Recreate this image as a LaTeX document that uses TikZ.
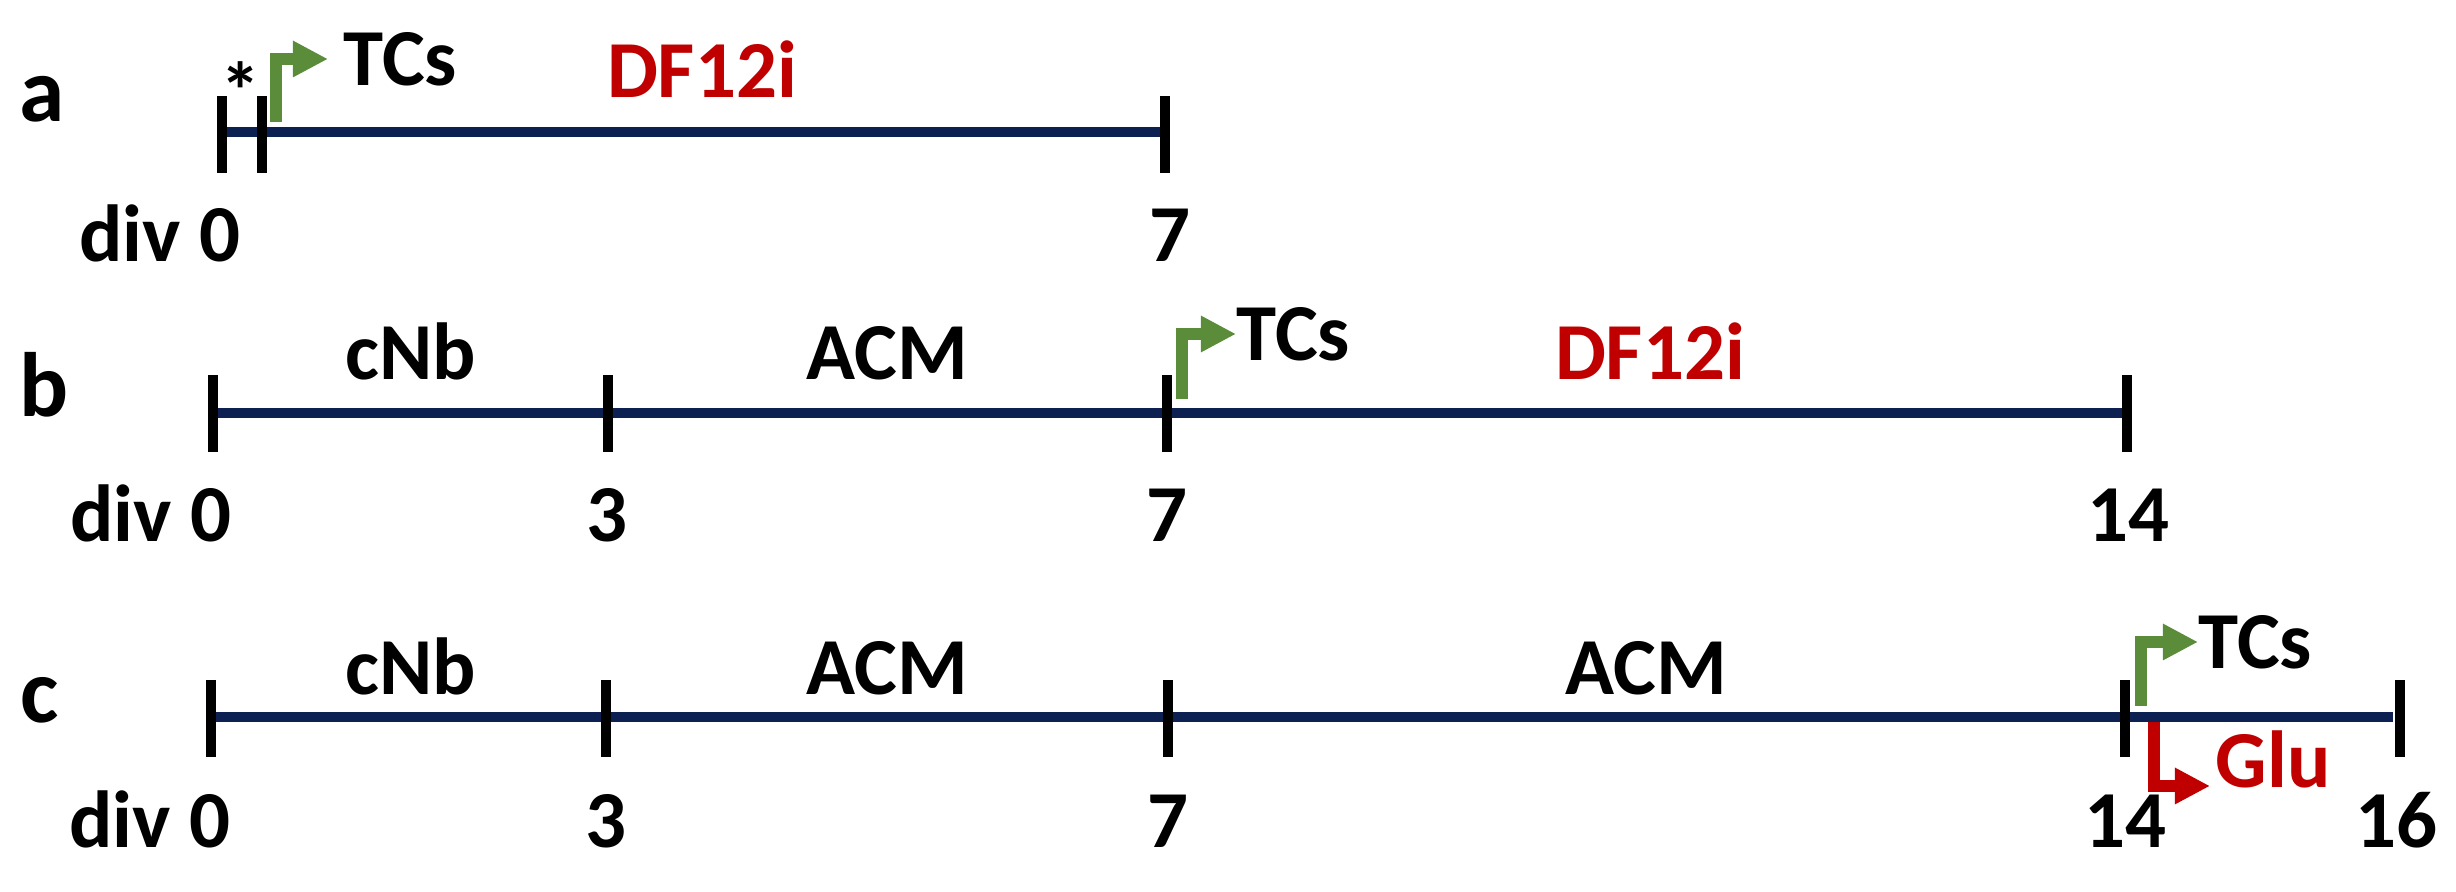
\documentclass[tikz,border=0pt]{standalone}
\usepackage{fontspec}
\setmainfont{Carlito}
\usetikzlibrary{arrows.meta}
\definecolor{navy}{HTML}{0C2152}
\definecolor{tcgreen}{HTML}{5B8C3A}
\definecolor{glured}{HTML}{C00000}
\begin{document}
\begin{tikzpicture}[x=0.01cm, y=-0.01cm,
  txt/.style={font=\fontsize{23}{26}\selectfont\bfseries, inner sep=0pt},
  lbl/.style={txt, anchor=base},
  redlbl/.style={txt, anchor=base, text=glured},
  rowlbl/.style={font=\fontsize{26}{30}\selectfont\bfseries, inner sep=0pt, anchor=base},
  timeline/.style={navy, line width=2.85pt},
  tickmark/.style={black, line width=2.6pt},
  arr/.style={line width=3.5pt, line join=miter, -{Triangle[length=0.35cm,width=0.34cm]}},
]
\useasboundingbox (0,0) rectangle (2456,892);

% ---------- row a ----------
\coordinate (a0) at (222,132);
\coordinate (a1) at (262,132);
\coordinate (a7) at (1165,132);
\draw[timeline] (a0) -- (a7);
\foreach \c in {a0,a1,a7} \draw[tickmark] (\c) ++(0,-36) -- ++(0,77);
\node[rowlbl] (la) at (42,122) {a};
\node[txt, anchor=base] (astar) at (241,120) {*};
\node[txt, anchor=west] (aTCs) at (343,59) {TCs};
\coordinate (aTCbase) at (276,122);
\draw[arr, tcgreen] (aTCbase) |- (aTCs.west) [shorten >=0.15cm];
\node[redlbl] (aDF) at (702,98) {DF12i};
\node[txt, anchor=base east] (adiv) at (241,262) {div 0};
\node[lbl] (a7n) at (1170,262) {7};

% ---------- row b ----------
\coordinate (b0) at (213,413);
\coordinate (b3) at (608,413);
\coordinate (b7) at (1167,413);
\coordinate (b14) at (2127,413);
\draw[timeline] (b0) -- (b14);
\foreach \c in {b0,b3,b7,b14} \draw[tickmark] (\c) ++(0,-38) -- ++(0,77);
\node[rowlbl] (lb) at (44,417) {b};
\node[lbl] (bcNb) at (411,380) {cNb};
\node[lbl] (bACM) at (887,380) {ACM};
\node[txt, anchor=west] (bTCs) at (1236,334) {TCs};
\coordinate (bTCbase) at (1182,399);
\draw[arr, tcgreen] (bTCbase) |- (bTCs.west);
\node[redlbl] (bDF) at (1650,380) {DF12i};
\node[txt, anchor=base east] (bdiv) at (232,542) {div 0};
\node[lbl] (b3n) at (607,542) {3};
\node[lbl] (b7n) at (1167,542) {7};
\node[lbl] (b14n) at (2128,542) {14};

% ---------- row c ----------
\coordinate (c0) at (211,717);
\coordinate (c3) at (606,717);
\coordinate (c7) at (1168,717);
\coordinate (c14) at (2125,717);
\coordinate (c16) at (2400,717);
\coordinate (cend) at (2393,717);
\draw[timeline] (c0) -- (cend);
\foreach \c in {c0,c3,c7,c14,c16} \draw[tickmark] (\c) ++(0,-37) -- ++(0,77);
\node[rowlbl] (lc) at (40,723) {c};
\node[lbl] (ccNb) at (411,695) {cNb};
\node[lbl] (cACM1) at (887,695) {ACM};
\node[lbl] (cACM2) at (1646,695) {ACM};
\node[txt, anchor=west] (cTCs) at (2198,642) {TCs};
\coordinate (cTCbase) at (2141,706);
\draw[arr, tcgreen] (cTCbase) |- (cTCs.west);
\node[redlbl, anchor=base west] (cGlu) at (2215,788) {Glu};
\coordinate (cGlubase) at (2154,722);
\coordinate (cGlutip) at (2210,786);
\draw[arr, glured] (cGlubase) |- (cGlutip);
\node[txt, anchor=base east] (cdiv) at (231,848) {div 0};
\node[lbl] (c3n) at (606,848) {3};
\node[lbl] (c7n) at (1168,848) {7};
\node[lbl] (c14n) at (2125,848) {14};
\node[lbl] (c16n) at (2396,848) {16};
\end{tikzpicture}
\end{document}
